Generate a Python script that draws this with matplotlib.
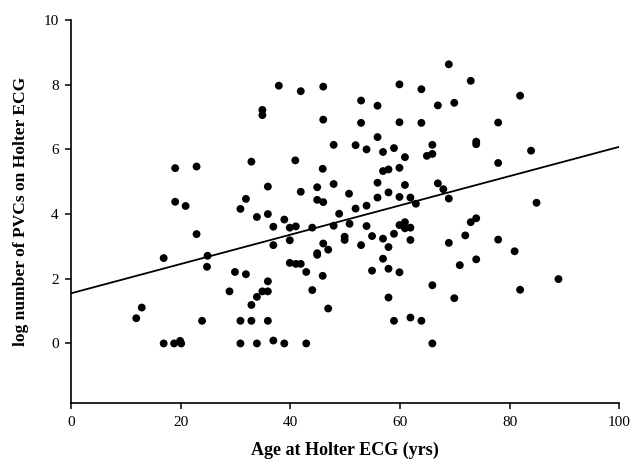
import matplotlib
matplotlib.use("Agg")
import matplotlib.pyplot as plt
import numpy as np

plt.rcParams['font.family'] = ['Liberation Serif', 'DejaVu Serif']

age = [19.0, 22.9, 19.0, 20.9, 22.9, 16.9, 24.9, 24.8, 12.9, 11.9, 23.9, 16.9, 18.8, 19.9, 20.1,
       37.9, 41.9, 46.0, 34.9, 34.9, 46.0, 47.9, 32.9, 40.9, 45.9, 35.9, 41.9, 44.9, 47.9, 50.7,
       31.9, 30.9, 44.9, 46.0, 33.9, 35.9, 38.9, 36.9, 39.9, 41.0, 44.0, 48.9, 47.9, 50.8,
       39.9, 36.9, 49.9, 49.9, 46.0, 46.9, 44.9, 44.9, 39.9, 41.0, 41.9, 42.9, 29.9, 31.9,
       35.9, 34.9, 35.9, 28.9, 33.9, 45.9, 44.0, 32.9, 46.9, 30.9, 32.9, 35.9,
       30.9, 33.9, 36.9, 38.9, 42.9,
       68.9, 59.9, 63.9, 72.9, 52.9, 55.9, 66.9, 69.9, 52.9, 59.9, 63.9, 55.9, 51.9, 53.9,
       56.9, 58.9, 60.9, 65.9, 64.9, 65.9, 73.9, 73.9, 56.9, 57.9, 59.9, 55.9, 60.9, 55.9,
       57.9, 59.9, 61.9, 62.9, 66.9, 67.9, 68.9, 51.9, 53.9, 53.9, 54.9, 52.9, 56.9, 57.9,
       58.9, 59.9, 60.9, 60.9, 61.9, 61.9, 68.9, 71.9, 72.9, 73.9, 56.9, 54.9, 57.9, 59.9,
       70.9, 73.9, 65.9, 57.9, 69.9, 58.9, 61.9, 63.9, 65.9,
       81.9, 77.9, 83.9, 77.9, 84.9, 77.9, 80.9, 88.9, 81.9]
log_pvc = [5.42, 5.47, 4.38, 4.25, 3.38, 2.64, 2.71, 2.37, 1.11, 0.78, 0.70, 0.0, 0.0, 0.08, 0.0,
           7.97, 7.80, 7.94, 7.22, 7.06, 6.92, 6.14, 5.62, 5.66, 5.40, 4.85, 4.69, 4.83, 4.93, 4.63,
           4.47, 4.16, 4.44, 4.37, 3.91, 4.00, 3.83, 3.61, 3.58, 3.62, 3.58, 4.01, 3.64, 3.70,
           3.19, 3.04, 3.30, 3.20, 3.09, 2.90, 2.79, 2.74, 2.49, 2.46, 2.46, 2.21, 2.21, 2.14,
           1.92, 1.61, 1.61, 1.61, 1.44, 2.09, 1.65, 1.19, 1.08, 0.70, 0.70, 0.70,
           0.0, 0.0, 0.09, 0.0, 0.0,
           8.63, 8.01, 7.86, 8.12, 7.51, 7.35, 7.36, 7.44, 6.82, 6.84, 6.82, 6.38, 6.13, 6.00,
           5.92, 6.04, 5.76, 6.14, 5.80, 5.86, 6.24, 6.16, 5.33, 5.38, 5.43, 4.97, 4.90, 4.51,
           4.67, 4.53, 4.51, 4.32, 4.95, 4.77, 4.48, 4.17, 4.26, 3.63, 3.32, 3.04, 3.24, 2.98,
           3.39, 3.66, 3.75, 3.56, 3.58, 3.20, 3.11, 3.34, 3.75, 3.87, 2.62, 2.25, 2.31, 2.20,
           2.42, 2.60, 1.80, 1.42, 1.40, 0.70, 0.80, 0.70, 0.0,
           7.66, 6.83, 5.96, 5.58, 4.35, 3.21, 2.85, 1.99, 1.66]

fit_x = [0, 100]
fit_y = [1.55, 6.08]

xticks = [0, 20, 40, 60, 80, 100]
yticks = [0, 2, 4, 6, 8, 10]

fig = plt.figure(figsize=(6.42, 4.59), dpi=100)
ax = fig.add_axes([0.1106, 0.1214, 0.8541, 0.835])
ax.scatter(age, log_pvc, s=32, color='black', edgecolors='none', zorder=3)
ax.plot(fit_x, fit_y, color='black', linewidth=1.3, zorder=2)

ax.set_xlim(0, 100)
ax.set_ylim(-1.85, 10)
ax.set_xticks(xticks)
ax.set_yticks(yticks)
ax.spines['top'].set_visible(False)
ax.spines['right'].set_visible(False)
for s in ['left', 'bottom']:
    ax.spines[s].set_linewidth(1.2)
ax.tick_params(direction='out', length=4, width=1.1, labelsize=11, pad=5)
ax.set_xlabel('Age at Holter ECG (yrs)', fontsize=13, fontweight='bold', labelpad=9)
ax.set_ylabel('log number of PVCs on Holter ECG', fontsize=12.6, fontweight='bold', labelpad=10)

fig.savefig('out.png', dpi=100)
